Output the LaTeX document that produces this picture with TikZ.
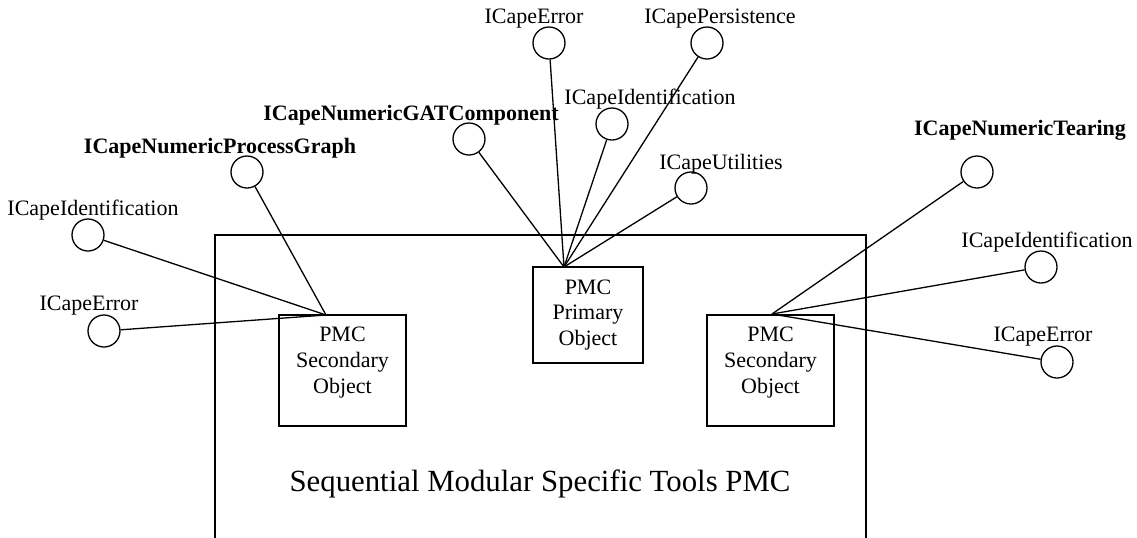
\documentclass[tikz,border=0pt]{standalone}
\usepackage{fontspec}
\setmainfont{Liberation Serif}
\usetikzlibrary{calc}

\begin{document}
\begin{tikzpicture}[x=0.5pt,y=-0.5pt,
    iface/.style={draw, circle, minimum size=16pt, inner sep=0pt, line width=0.65pt},
    ilabel/.style={inner sep=0pt, font=\fontsize{11}{13}\selectfont},
    blabel/.style={inner sep=0pt, font=\fontsize{11}{13}\selectfont\bfseries},
    objbox/.style={draw, line width=0.75pt, inner sep=0pt},
    objtext/.style={align=center, inner sep=0pt, font=\fontsize{11}{12.85}\selectfont},
    link/.style={line width=0.65pt}]
\useasboundingbox (0,0) rectangle (1137,537);

% the PMC container
\draw[line width=0.75pt] (215,235) rectangle (866,545);
\node[inner sep=0pt, font=\fontsize{15.4}{18}\selectfont] (title) at (540,484) {Sequential Modular Specific Tools PMC};

% objects
\node[objbox, minimum width=63.5pt, minimum height=55.5pt] (lsec) at (342.5,370.5) {};
\node[objtext] (lsectext) at ($(lsec.center)+(0,-8)$) {PMC\\Secondary\\Object};
\node[objbox, minimum width=55pt, minimum height=48pt] (prim) at (588,315) {};
\node[objtext] (primtext) at (prim.center) {PMC\\Primary\\Object};
\node[objbox, minimum width=63.5pt, minimum height=55.5pt] (rsec) at (770.5,370.5) {};
\node[objtext] (rsectext) at ($(rsec.center)+(0,-8)$) {PMC\\Secondary\\Object};

\coordinate (lsecpin) at (326,315);
\coordinate (primpin) at (564,267);
\coordinate (rsecpin) at (772,314);

% interfaces of the left secondary object
\node[iface] (lid) at (88,235) {};
\node[ilabel] (lidtext) at (93,210) {ICapeIdentification};
\node[iface] (lerr) at (104,331) {};
\node[ilabel] (lerrtext) at (89,306) {ICapeError};
\node[iface] (lpg) at (247,172) {};
\node[blabel] (lpgtext) at (220,148) {ICapeNumericProcessGraph};

% interfaces of the primary object
\node[iface] (gat) at (469,139) {};
\node[blabel] (gattext) at (411,115) {ICapeNumericGATComponent};
\node[iface] (perr) at (549,43) {};
\node[ilabel] (perrtext) at (534,19) {ICapeError};
\node[iface] (pers) at (707,43) {};
\node[ilabel] (perstext) at (720,19) {ICapePersistence};
\node[iface] (pid) at (612,124) {};
\node[ilabel] (pidtext) at (650,99) {ICapeIdentification};
\node[iface] (util) at (691,188) {};
\node[ilabel] (utiltext) at (721,164) {ICapeUtilities};

% interfaces of the right secondary object
\node[iface] (tear) at (977,172) {};
\node[blabel] (teartext) at (1020,130) {ICapeNumericTearing};
\node[iface] (rid) at (1041,267) {};
\node[ilabel] (ridtext) at (1047,242) {ICapeIdentification};
\node[iface] (rerr) at (1057,362) {};
\node[ilabel] (rerrtext) at (1043,337) {ICapeError};

\draw[link] (lid) -- (lsecpin);
\draw[link] (lerr) -- (lsecpin);
\draw[link] (lpg) -- (lsecpin);

\draw[link] (gat) -- (primpin);
\draw[link] (perr) -- (primpin);
\draw[link] (pers) -- (primpin);
\draw[link] (pid) -- (primpin);
\draw[link] (util) -- (primpin);

\draw[link] (tear) -- (rsecpin);
\draw[link] (rid) -- (rsecpin);
\draw[link] (rerr) -- (rsecpin);

\end{tikzpicture}
\end{document}
